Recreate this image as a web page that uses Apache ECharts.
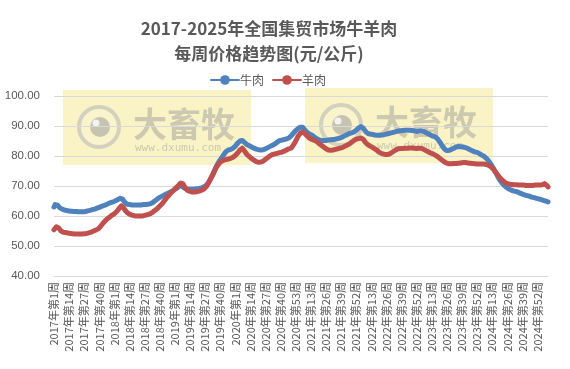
<!DOCTYPE html>
<html>
<head>
<meta charset="utf-8">
<script src="https://cdn.jsdelivr.net/npm/echarts@6.0.0/dist/echarts.min.js"></script>
<style>
  html, body { margin: 0; padding: 0; background: #fff; }
  #chart { width: 570px; height: 369px; }
</style>
</head>
<body>
<div id="chart"></div>
<script>
// 每年的周数 (2025年只到第9周)
const years = [2017, 2018, 2019, 2020, 2021, 2022, 2023, 2024, 2025];
const weeksInYear = [52, 52, 52, 53, 52, 52, 52, 52, 9];

// 牛肉 元/公斤
const beef2017 = [63.0, 63.8, 64.2, 63.6, 63.0, 62.7, 62.5, 62.3, 62.2, 62.0,
  61.9, 61.8, 61.8, 61.7, 61.7, 61.6, 61.6, 61.5, 61.5, 61.5,
  61.4, 61.4, 61.4, 61.4, 61.4, 61.4, 61.5, 61.5, 61.6, 61.7,
  61.8, 61.9, 62.0, 62.1, 62.2, 62.3, 62.5, 62.6, 62.8, 62.9,
  63.0, 63.2, 63.3, 63.5, 63.7, 63.8, 64.0, 64.2, 64.3, 64.5, 64.6, 64.7];
const beef2018 = [64.9, 65.1, 65.3, 65.5, 65.7, 65.9, 66.1, 65.6, 65.0, 64.5,
  64.1, 63.9, 63.8, 63.8, 63.8, 63.7, 63.7, 63.7, 63.7, 63.7,
  63.7, 63.7, 63.7, 63.7, 63.8, 63.8, 63.8, 63.8, 63.9, 63.9,
  64.0, 64.1, 64.3, 64.5, 64.8, 65.1, 65.4, 65.7, 66.0, 66.2,
  66.4, 66.6, 66.8, 67.0, 67.2, 67.4, 67.6, 67.8, 68.0, 68.2, 68.4, 68.6];
const beef2019 = [68.8, 69.1, 69.4, 69.7, 70.0, 70.3, 70.0, 69.6, 69.3, 69.1,
  69.0, 68.9, 68.9, 68.9, 68.9, 68.9, 69.0, 69.0, 69.0, 69.1,
  69.1, 69.2, 69.3, 69.4, 69.5, 69.7, 69.9, 70.2, 70.6, 71.2,
  71.9, 72.6, 73.3, 74.0, 75.0, 76.0, 76.8, 77.5, 78.2, 78.8,
  79.3, 79.8, 80.4, 81.0, 81.5, 82.0, 82.0, 82.1, 82.2, 82.3, 82.6, 83.0];
const beef2020 = [83.3, 83.8, 84.3, 84.7, 85.0, 85.3, 85.2, 84.9, 84.5, 84.1,
  83.8, 83.6, 83.4, 83.2, 83.0, 82.8, 82.6, 82.4, 82.3, 82.2,
  82.1, 82.0, 82.0, 82.0, 82.1, 82.2, 82.4, 82.6, 82.8, 83.0,
  83.2, 83.4, 83.6, 83.8, 84.0, 84.3, 84.6, 84.9, 85.1, 85.2,
  85.3, 85.4, 85.5, 85.6, 85.7, 85.8, 86.0, 86.3, 86.7, 87.1, 87.6, 88.1, 88.5];
const beef2021 = [88.8, 89.1, 89.4, 89.6, 89.7, 89.6, 89.1, 88.6, 88.1, 87.8,
  87.5, 87.3, 87.2, 86.9, 86.6, 86.3, 86.0, 85.8, 85.6, 85.4,
  85.3, 85.2, 85.2, 85.2, 85.2, 85.2, 85.2, 85.3, 85.3, 85.4,
  85.5, 85.5, 85.6, 85.6, 85.7, 85.8, 85.9, 86.0, 86.1, 86.3,
  86.5, 86.7, 86.9, 87.1, 87.3, 87.5, 87.6, 87.7, 87.8, 88.0, 88.3, 88.6];
const beef2022 = [89.0, 89.3, 89.6, 89.8, 89.8, 89.3, 88.7, 88.2, 87.8, 87.5,
  87.4, 87.3, 87.3, 87.2, 87.1, 87.0, 87.0, 86.9, 86.9, 86.9,
  86.9, 87.0, 87.0, 87.1, 87.2, 87.3, 87.4, 87.5, 87.6, 87.7,
  87.8, 87.9, 88.0, 88.1, 88.2, 88.3, 88.4, 88.4, 88.5, 88.5,
  88.6, 88.6, 88.6, 88.6, 88.6, 88.6, 88.5, 88.5, 88.4, 88.4, 88.3, 88.2];
const beef2023 = [88.2, 88.3, 88.4, 88.4, 88.3, 88.2, 88.0, 87.8, 87.6, 87.4,
  87.2, 87.0, 86.8, 86.6, 86.5, 86.4, 86.1, 85.7, 85.2, 84.6,
  84.0, 83.4, 82.8, 82.3, 82.0, 81.8, 81.8, 81.9, 82.0, 82.2,
  82.4, 82.6, 82.8, 83.0, 83.1, 83.2, 83.2, 83.1, 83.0, 83.0,
  82.9, 82.8, 82.7, 82.5, 82.3, 82.1, 81.9, 81.7, 81.5, 81.4, 81.3, 81.2];
const beef2024 = [81.0, 80.8, 80.5, 80.3, 80.1, 79.9, 79.6, 79.2, 78.8, 78.3,
  77.8, 77.2, 76.6, 75.9, 75.2, 74.5, 73.8, 73.0, 72.3, 71.7,
  71.2, 70.7, 70.3, 70.0, 69.6, 69.3, 69.1, 68.9, 68.7, 68.6,
  68.4, 68.3, 68.2, 68.1, 68.0, 67.8, 67.6, 67.5, 67.3, 67.2,
  67.0, 66.9, 66.8, 66.7, 66.6, 66.4, 66.3, 66.2, 66.1, 66.0, 65.9, 65.8];
const beef2025 = [65.7, 65.6, 65.5, 65.4, 65.2, 65.1, 65.0, 64.8, 64.7];

// 羊肉 元/公斤
const mutton2017 = [55.4, 55.9, 56.4, 56.5, 56.0, 55.4, 55.0, 54.8, 54.6, 54.5,
  54.5, 54.4, 54.3, 54.3, 54.2, 54.2, 54.1, 54.1, 54.0, 54.0,
  54.0, 54.0, 54.0, 54.0, 54.0, 54.0, 54.1, 54.1, 54.2, 54.3,
  54.4, 54.5, 54.6, 54.8, 55.0, 55.1, 55.3, 55.5, 55.7, 56.0,
  56.5, 57.0, 57.5, 58.0, 58.4, 58.8, 59.1, 59.4, 59.7, 60.0, 60.3, 60.5];
const mutton2018 = [60.8, 61.1, 61.5, 62.0, 62.5, 63.0, 63.4, 63.3, 62.7, 62.0,
  61.5, 61.1, 60.8, 60.6, 60.4, 60.3, 60.2, 60.1, 60.1, 60.0,
  60.0, 60.0, 60.0, 60.0, 60.1, 60.1, 60.2, 60.3, 60.4, 60.5,
  60.6, 60.8, 61.0, 61.3, 61.6, 61.9, 62.2, 62.5, 62.9, 63.3,
  63.7, 64.1, 64.6, 65.1, 65.6, 66.1, 66.6, 67.0, 67.4, 67.8, 68.2, 68.6];
const mutton2019 = [69.0, 69.4, 69.8, 70.2, 70.6, 71.0, 71.2, 70.7, 70.0, 69.3,
  68.8, 68.5, 68.3, 68.2, 68.1, 68.0, 68.0, 68.0, 68.0, 68.1,
  68.2, 68.3, 68.4, 68.6, 68.8, 69.0, 69.3, 69.8, 70.4, 71.1,
  71.8, 72.6, 73.4, 74.2, 75.0, 75.7, 76.4, 77.0, 77.5, 77.9,
  78.2, 78.4, 78.6, 78.7, 78.8, 78.9, 79.0, 79.1, 79.2, 79.4, 79.6, 79.9];
const mutton2020 = [80.2, 80.6, 81.0, 81.5, 82.0, 82.5, 82.6, 82.2, 81.6, 81.0,
  80.5, 80.1, 79.8, 79.5, 79.2, 78.9, 78.6, 78.3, 78.1, 78.0,
  77.9, 77.9, 78.0, 78.1, 78.3, 78.6, 78.9, 79.2, 79.5, 79.8,
  80.1, 80.3, 80.5, 80.6, 80.7, 80.8, 80.9, 81.0, 81.1, 81.2,
  81.3, 81.4, 81.6, 81.8, 82.0, 82.2, 82.4, 82.5, 82.6, 83.1, 83.7, 84.3, 85.0];
const mutton2021 = [85.8, 86.6, 87.2, 87.6, 87.9, 88.0, 87.8, 87.4, 87.0, 86.6,
  86.2, 85.9, 85.7, 85.5, 85.4, 85.2, 85.0, 84.8, 84.5, 84.2,
  83.9, 83.6, 83.3, 83.0, 82.7, 82.4, 82.2, 82.0, 81.9, 81.9,
  81.9, 82.0, 82.1, 82.2, 82.3, 82.4, 82.5, 82.6, 82.7, 82.8,
  83.0, 83.2, 83.4, 83.6, 83.8, 84.0, 84.3, 84.6, 84.9, 85.2, 85.4, 85.6];
const mutton2022 = [85.7, 85.8, 85.9, 86.0, 86.0, 85.6, 85.0, 84.5, 84.1, 83.8,
  83.5, 83.3, 83.1, 82.9, 82.7, 82.4, 82.1, 81.8, 81.5, 81.2,
  81.0, 80.8, 80.7, 80.6, 80.5, 80.5, 80.5, 80.6, 80.8, 81.0,
  81.2, 81.5, 81.8, 82.0, 82.2, 82.4, 82.5, 82.5, 82.5, 82.5,
  82.5, 82.6, 82.6, 82.6, 82.7, 82.7, 82.7, 82.7, 82.6, 82.6, 82.5, 82.5];
const mutton2023 = [82.5, 82.6, 82.6, 82.6, 82.4, 82.2, 82.0, 81.8, 81.6, 81.4,
  81.2, 81.0, 80.9, 80.7, 80.5, 80.3, 80.1, 79.8, 79.5, 79.2,
  78.9, 78.6, 78.3, 78.0, 77.8, 77.6, 77.5, 77.4, 77.4, 77.4,
  77.5, 77.5, 77.5, 77.5, 77.5, 77.6, 77.6, 77.7, 77.7, 77.8,
  77.8, 77.8, 77.8, 77.7, 77.7, 77.6, 77.6, 77.5, 77.5, 77.4, 77.4, 77.3];
const mutton2024 = [77.3, 77.3, 77.3, 77.3, 77.3, 77.3, 77.2, 77.1, 77.0, 76.9,
  76.7, 76.4, 76.0, 75.6, 75.1, 74.6, 74.1, 73.6, 73.1, 72.6,
  72.2, 71.8, 71.5, 71.2, 71.0, 70.8, 70.7, 70.6, 70.5, 70.5,
  70.4, 70.4, 70.4, 70.4, 70.3, 70.3, 70.3, 70.3, 70.3, 70.3,
  70.2, 70.2, 70.2, 70.2, 70.2, 70.2, 70.2, 70.2, 70.2, 70.3, 70.3, 70.3];
const mutton2025 = [70.3, 70.3, 70.3, 70.4, 70.6, 70.8, 70.7, 70.2, 69.7];

const beef = [].concat(beef2017, beef2018, beef2019, beef2020, beef2021, beef2022, beef2023, beef2024, beef2025);
const mutton = [].concat(mutton2017, mutton2018, mutton2019, mutton2020, mutton2021, mutton2022, mutton2023, mutton2024, mutton2025);

// 类目: 2017年第1周 ...
const weeks = [];
years.forEach((y, i) => {
  for (let w = 1; w <= weeksInYear[i]; w++) weeks.push(y + '年第' + w + '周');
});

const textColor = '#595959';
const gridColor = '#d9d9d9';

// 大畜牧 水印 (盖在折线上面)
function watermark(left, top) {
  const ink = 'rgba(150,150,150,0.45)';
  return {
    type: 'group',
    left: left,
    top: top,
    z: 100,
    silent: true,
    children: [
      { type: 'rect', shape: { x: 0, y: 0, width: 188, height: 75 },
        style: { fill: 'rgba(240,225,110,0.4)' } },
      { type: 'circle', shape: { cx: 36, cy: 37, r: 20 },
        style: { fill: 'rgba(255,255,255,0.15)', stroke: 'rgba(180,180,180,0.55)', lineWidth: 4 } },
      { type: 'circle', shape: { cx: 37, cy: 37, r: 10 },
        style: { fill: 'rgba(155,155,155,0.55)' } },
      { type: 'circle', shape: { cx: 33, cy: 33, r: 3.5 },
        style: { fill: 'rgba(255,255,255,0.8)' } },
      { type: 'text', x: 70, y: 17,
        style: { text: '大畜牧', fill: ink, fontSize: 34, fontWeight: 'bold',
          fontFamily: 'Noto Sans CJK SC' } },
      { type: 'text', x: 72, y: 53,
        style: { text: 'www.dxumu.com', fill: ink, fontSize: 11,
          fontFamily: 'DejaVu Sans Mono' } }
    ]
  };
}

const chart = echarts.init(document.getElementById('chart'), null, { renderer: 'canvas' });
chart.setOption({
  animation: false,
  backgroundColor: '#fff',
  textStyle: { fontFamily: "'Liberation Sans', 'Noto Sans CJK SC', sans-serif" },
  title: {
    text: '2017-2025年全国集贸市场牛羊肉\n每周价格趋势图(元/公斤)',
    left: 264,
    top: 11,
    textAlign: 'center',
    textStyle: {
      color: textColor,
      fontSize: 17,
      fontWeight: 'bold',
      lineHeight: 25,
      fontFamily: 'Noto Sans CJK SC'
    }
  },
  legend: {
    left: 205,
    top: 69,
    itemWidth: 28,
    itemHeight: 12,
    itemGap: 8,
    textStyle: { color: textColor, fontSize: 12, fontFamily: 'Noto Sans CJK SC', padding: [0, 0, 0, -4] },
    data: ['牛肉', '羊肉']
  },
  grid: { left: 54, right: 22, top: 96, bottom: 93 },
  xAxis: {
    type: 'category',
    boundaryGap: false,
    data: weeks,
    axisLine: { show: true, lineStyle: { color: gridColor } },
    axisTick: { show: false },
    axisLabel: {
      interval: 12,
      rotate: 90,
      margin: 6,
      color: textColor,
      fontSize: 11,
      fontFamily: 'Noto Sans CJK SC'
    },
    splitLine: { show: false }
  },
  yAxis: {
    type: 'value',
    min: 40,
    max: 100,
    interval: 10,
    axisLine: { show: false },
    axisTick: { show: false },
    axisLabel: {
      margin: 14,
      color: textColor,
      fontSize: 11.5,
      formatter: v => v.toFixed(2)
    },
    splitLine: { lineStyle: { color: gridColor, width: 1 } }
  },
  series: [
    {
      name: '牛肉',
      type: 'line',
      data: beef,
      symbol: 'circle',
      symbolSize: 6,
      showSymbol: false,
      lineStyle: { color: '#4f81bd', width: 5, cap: 'round', join: 'round' },
      itemStyle: { color: '#4f81bd' }
    },
    {
      name: '羊肉',
      type: 'line',
      data: mutton,
      symbol: 'circle',
      symbolSize: 6,
      showSymbol: false,
      lineStyle: { color: '#c0504d', width: 5, cap: 'round', join: 'round' },
      itemStyle: { color: '#c0504d' }
    }
  ],
  graphic: [watermark(63, 90), watermark(305, 88)]
});
</script>
</body>
</html>
